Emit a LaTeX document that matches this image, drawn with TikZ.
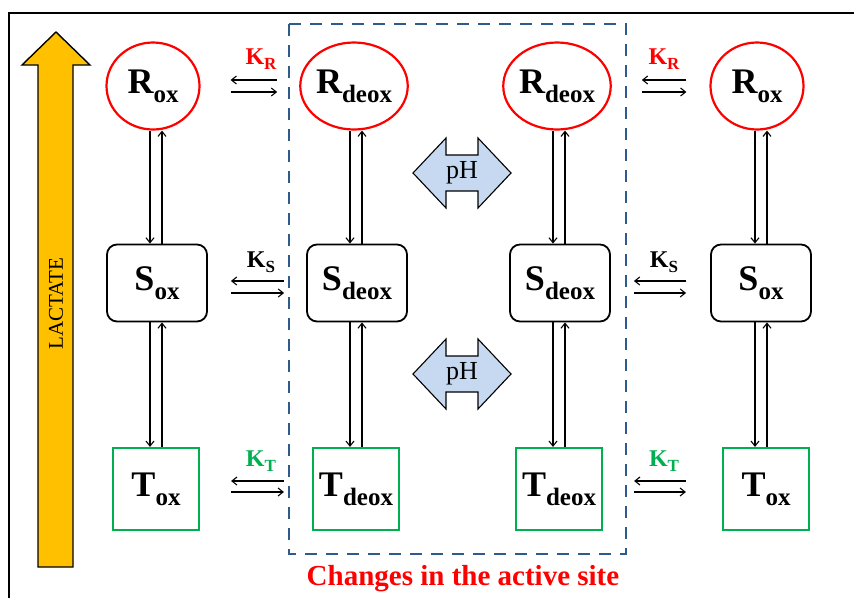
\documentclass[tikz,border=0pt]{standalone}
\usepackage{fontspec}
\setmainfont{Liberation Serif}
\usetikzlibrary{shapes.geometric,arrows.meta}
\definecolor{ringred}{HTML}{FF0000}
\definecolor{tgreen}{HTML}{00B050}
\definecolor{siteblue}{HTML}{2F5A8C}
\definecolor{lactgold}{HTML}{FFC000}
\definecolor{phblue}{HTML}{C6D9F1}
% species label: big bold letter with a lowered bold subscript
\newcommand\spec[2]{{\fontsize{36}{38}\selectfont\bfseries #1\raisebox{-9pt}{\fontsize{25}{26}\selectfont #2}}}
% equilibrium constant label
\newcommand\kconst[2]{{\fontsize{24}{26}\selectfont\bfseries #1\raisebox{-5pt}{\fontsize{17}{18}\selectfont #2}}}
\begin{document}
\begin{tikzpicture}[x=1pt,y=-1pt,
  rstate/.style={ellipse, draw=ringred, line width=2.2pt, minimum width=93pt, minimum height=87pt, inner sep=0pt},
  sstate/.style={rectangle, rounded corners=10pt, draw=black, line width=1.8pt, minimum width=100pt, minimum height=77pt, inner sep=0pt},
  tstate/.style={rectangle, draw=tgreen, line width=2.2pt, minimum width=86pt, minimum height=82pt, inner sep=0pt},
  eqarrow/.style={line width=1.1pt, -{Straight Barb[length=5pt,width=8pt]}},
  phshape/.style={draw=black, line width=1.1pt, fill=phblue, line join=miter}
]
\useasboundingbox (0,0) rectangle (854,598);
\fill[white] (0,0) rectangle (854,598);

% outer frame (top and left edges)
\draw[line width=1.8pt] (854,13) -- (9,13) -- (9,598);

% lactate arrow
\draw[fill=lactgold, line width=1.4pt, line join=miter]
  (38,567) -- (38,65) -- (22,65) -- (56,32) -- (90,65) -- (73,65) -- (73,567) -- cycle;
\node[rotate=90, font=\fontsize{21}{22}\selectfont] (lactate) at (56,304) {LACTATE};

% active-site region
\draw[siteblue, line width=2.2pt, dash pattern=on 12pt off 9pt] (289,24) rectangle (626,554);
\node[text=ringred, font=\fontsize{29}{30}\selectfont\bfseries] (site) at (463,579) {Changes in the active site};

% R states
\node[rstate] (R1) at (153,86) {\spec{R}{ox}};
\node[rstate] (R2) at (354,86) {\spec{R}{deox}};
\node[rstate] (R3) at (557,86) {\spec{R}{deox}};
\node[rstate] (R4) at (757,86) {\spec{R}{ox}};
% S states
\node[sstate] (S1) at (157,283) {\spec{S}{ox}};
\node[sstate] (S2) at (357,283) {\spec{S}{deox}};
\node[sstate] (S3) at (560,283) {\spec{S}{deox}};
\node[sstate] (S4) at (761,283) {\spec{S}{ox}};
% T states
\node[tstate] (T1) at (156,489) {\spec{T}{ox}};
\node[tstate] (T2) at (356,489) {\spec{T}{deox}};
\node[tstate] (T3) at (559,489) {\spec{T}{deox}};
\node[tstate] (T4) at (766,489) {\spec{T}{ox}};

% vertical equilibria
\foreach \r/\s/\t/\c in {R1/S1/T1/156, R2/S2/T2/356, R3/S3/T3/559, R4/S4/T4/761} {
  \coordinate (cl) at (\c-6,0);
  \coordinate (cr) at (\c+6,0);
  \draw[eqarrow] (cl |- \r.south) -- (cl |- \s.north);
  \draw[eqarrow] (cr |- \s.north) -- (cr |- \r.south);
  \draw[eqarrow] (cl |- \s.south) -- (cl |- \t.north);
  \draw[eqarrow] (cr |- \t.north) -- (cr |- \s.south);
}

% horizontal equilibria, R row
\draw[eqarrow, shorten <=22pt, shorten >=30pt] ([yshift=6pt]R2.west) -- ([yshift=6pt]R1.east);
\draw[eqarrow, shorten <=30pt, shorten >=22pt] ([yshift=-6pt]R1.east) -- ([yshift=-6pt]R2.west);
\draw[eqarrow, shorten <=23pt, shorten >=30pt] ([yshift=6pt]R4.west) -- ([yshift=6pt]R3.east);
\draw[eqarrow, shorten <=30pt, shorten >=23pt] ([yshift=-6pt]R3.east) -- ([yshift=-6pt]R4.west);
% S row
\draw[eqarrow, shorten <=22pt, shorten >=23pt] ([yshift=2pt]S2.west) -- ([yshift=2pt]S1.east);
\draw[eqarrow, shorten <=23pt, shorten >=22pt] ([yshift=-10pt]S1.east) -- ([yshift=-10pt]S2.west);
\draw[eqarrow, shorten <=24pt, shorten >=23pt] ([yshift=2pt]S4.west) -- ([yshift=2pt]S3.east);
\draw[eqarrow, shorten <=23pt, shorten >=24pt] ([yshift=-10pt]S3.east) -- ([yshift=-10pt]S4.west);
% T row
\draw[eqarrow, shorten <=28pt, shorten >=31pt] ([yshift=8pt]T2.west) -- ([yshift=8pt]T1.east);
\draw[eqarrow, shorten <=31pt, shorten >=28pt] ([yshift=-3pt]T1.east) -- ([yshift=-3pt]T2.west);
\draw[eqarrow, shorten <=36pt, shorten >=31pt] ([yshift=8pt]T4.west) -- ([yshift=8pt]T3.east);
\draw[eqarrow, shorten <=31pt, shorten >=36pt] ([yshift=-3pt]T3.east) -- ([yshift=-3pt]T4.west);

% equilibrium constants
\node[text=ringred] (kr1) at (261,59) {\kconst{K}{R}};
\node[text=ringred] (kr2) at (664,59) {\kconst{K}{R}};
\node (ks1) at (261,262) {\kconst{K}{S}};
\node (ks2) at (664,262) {\kconst{K}{S}};
\node[text=tgreen] (kt1) at (261,461) {\kconst{K}{T}};
\node[text=tgreen] (kt2) at (664,461) {\kconst{K}{T}};

% pH double arrows
\foreach \py/\nm in {173/ph1, 374/ph2} {
  \draw[phshape, shift={(462,\py)}]
    (-49,0) -- (-16,-35) -- (-16,-18) -- (16,-18) -- (16,-35) -- (49,0)
    -- (16,35) -- (16,18) -- (-16,18) -- (-16,35) -- cycle;
  \node[font=\fontsize{26}{28}\selectfont] (\nm) at (462,\py) {pH};
}
\end{tikzpicture}
\end{document}
